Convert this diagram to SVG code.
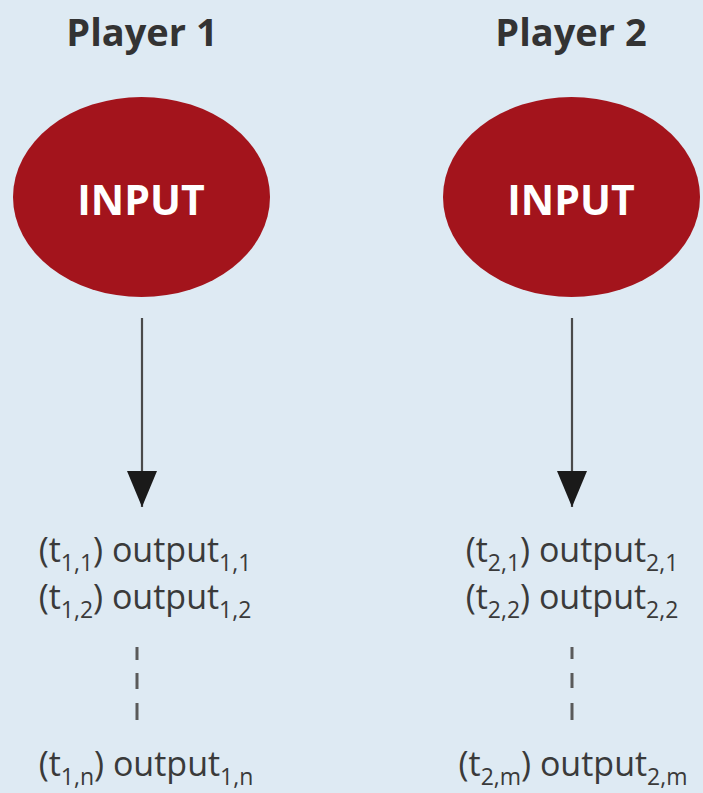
<svg xmlns="http://www.w3.org/2000/svg" width="703" height="793" viewBox="0 0 703 793">
<defs>
<style>
.title{font-family:"Open Sans","Liberation Sans",sans-serif;font-weight:bold;font-size:38px;fill:#333;text-anchor:middle}
.node{fill:#a3141c}
.lbl{font-family:"Open Sans","Liberation Sans",sans-serif;font-weight:bold;font-size:41px;fill:#fff;text-anchor:middle}
.out{font-family:"Open Sans","Liberation Sans",sans-serif;font-size:34px;fill:#3a3a3a;text-anchor:middle}
.sub{font-size:23px}
.conn{stroke:#4a4a4a;stroke-width:2.2;fill:none}
.dash{stroke:#5a5a5a;stroke-width:3;fill:none}
</style>
<marker id="ah" viewBox="0 0 36 30" refX="36" refY="15" markerWidth="36" markerHeight="30" markerUnits="userSpaceOnUse" orient="auto">
<path d="M0,0 L36,15 L0,30 Z" fill="#1a1a1a"/>
</marker>
</defs>
<rect width="703" height="793" fill="#deeaf3"/>
<g id="player1">
<text class="title" x="142" y="46">Player 1</text>
<g id="input1">
<ellipse class="node" cx="141.5" cy="197" rx="128.5" ry="100"/>
<text class="lbl" x="141" y="215">INPUT</text>
</g>
<g id="outputs1">
<text class="out" x="145" y="562">(t<tspan class="sub" dy="9">1,1</tspan><tspan dy="-9">) output</tspan><tspan class="sub" dy="9">1,1</tspan></text>
<text class="out" x="145" y="609">(t<tspan class="sub" dy="9">1,2</tspan><tspan dy="-9">) output</tspan><tspan class="sub" dy="9">1,2</tspan></text>
<text class="out" x="146" y="776">(t<tspan class="sub" dy="9">1,n</tspan><tspan dy="-9">) output</tspan><tspan class="sub" dy="9">1,n</tspan></text>
</g>
</g>
<g id="player2">
<text class="title" x="571" y="46">Player 2</text>
<g id="input2">
<ellipse class="node" cx="571.5" cy="197" rx="128.5" ry="100"/>
<text class="lbl" x="571" y="215">INPUT</text>
</g>
<g id="outputs2">
<text class="out" x="572" y="562">(t<tspan class="sub" dy="9">2,1</tspan><tspan dy="-9">) output</tspan><tspan class="sub" dy="9">2,1</tspan></text>
<text class="out" x="572" y="609">(t<tspan class="sub" dy="9">2,2</tspan><tspan dy="-9">) output</tspan><tspan class="sub" dy="9">2,2</tspan></text>
<text class="out" x="573" y="776">(t<tspan class="sub" dy="9">2,m</tspan><tspan dy="-9">) output</tspan><tspan class="sub" dy="9">2,m</tspan></text>
</g>
</g>
<g id="connectors">
<line class="conn" x1="142" y1="318" x2="142" y2="507" marker-end="url(#ah)"/>
<line class="conn" x1="572" y1="318" x2="572" y2="507" marker-end="url(#ah)"/>
<path class="dash" d="M137,647 V660 M137,673 V689 M137,703 V720"/>
<path class="dash" d="M572,647 V659 M572,673 V688 M572,703 V720"/>
</g>
</svg>
